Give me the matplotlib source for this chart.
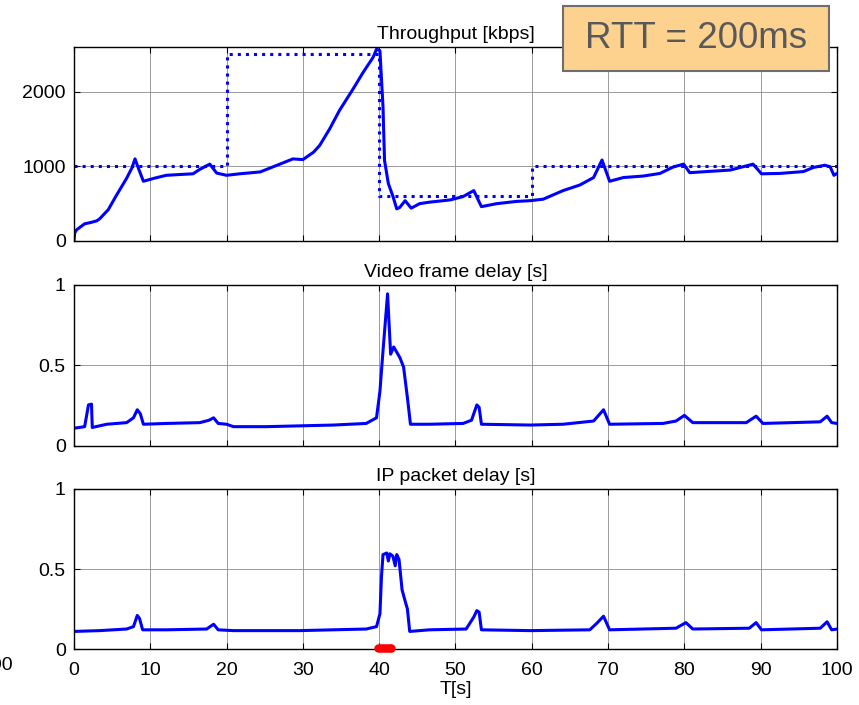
import numpy as np
import matplotlib
matplotlib.use("Agg")
import matplotlib.pyplot as plt
from matplotlib.patches import Rectangle

plt.rcParams["font.family"] = ["Liberation Sans", "DejaVu Sans"]

# throughput [kbps]
tp_t = [0.0, 0.1, 0.35, 1.4, 2.3, 3.0, 3.4, 4.5, 5.5, 6.9, 7.6, 8.0, 8.5, 9.1, 10.5, 12.1,
        13.8, 15.6, 16.5, 17.8, 18.7, 20.0, 21.7, 24.4, 26.5, 28.7, 30.0, 31.4, 32.2, 33.5,
        34.8, 36.6, 37.9, 39.2, 39.65, 40.1, 40.5, 40.7, 41.2, 41.8, 42.3, 42.7, 43.4, 44.2,
        45.3, 46.6, 49.3, 51.0, 52.4, 53.4, 55.4, 58.0, 59.8, 61.5, 64.1, 66.3, 68.1, 69.2,
        70.2, 72.0, 74.6, 76.8, 78.5, 79.9, 80.7, 82.9, 86.0, 87.7, 89.0, 90.1, 92.5, 95.6,
        96.9, 98.4, 99.1, 99.6, 100.0]
tp_v = [0, 110, 150, 230, 250, 270, 300, 420, 600, 840, 980, 1100, 960, 800, 840, 880,
        890, 900, 960, 1030, 910, 880, 900, 925, 1010, 1100, 1090, 1190, 1280, 1500,
        1750, 2040, 2260, 2460, 2570, 2550, 1800, 1080, 770, 600, 430, 450, 540, 440,
        500, 520, 550, 595, 675, 460, 500, 530, 540, 560, 675, 750, 850, 1085,
        800, 850, 870, 905, 990, 1030, 915, 930, 950, 995, 1030, 900, 905, 930,
        985, 1015, 995, 880, 905]

# target rate steps
target_t = [0, 20, 20, 40, 40, 60, 60, 100]
target_v = [1000, 1000, 2500, 2500, 600, 600, 1000, 1000]

# video frame delay [s]
vf_t = [0.0, 1.4, 1.7, 1.9, 2.3, 2.4, 4.3, 6.9, 7.8, 8.3, 8.7, 9.1, 12.1, 16.5, 17.7, 18.3,
        18.9, 20.0, 20.9, 25.2, 29.6, 34.0, 38.3, 39.65, 40.1, 40.5, 41.1, 41.5, 41.9, 42.7,
        43.2, 43.7, 44.1, 46.6, 51.0, 52.1, 52.8, 53.1, 53.4, 59.8, 64.1, 68.1, 69.4, 70.2,
        77.2, 78.9, 80.0, 81.1, 88.1, 89.4, 90.3, 97.8, 98.7, 99.3, 100.0]
vf_v = [0.11, 0.12, 0.2, 0.255, 0.26, 0.115, 0.135, 0.145, 0.175, 0.225, 0.2, 0.135, 0.14,
        0.145, 0.16, 0.175, 0.14, 0.135, 0.12, 0.12, 0.125, 0.13, 0.14, 0.175, 0.34, 0.59,
        0.945, 0.57, 0.615, 0.55, 0.49, 0.3, 0.135, 0.135, 0.14, 0.16, 0.255, 0.24, 0.135,
        0.13, 0.135, 0.155, 0.225, 0.135, 0.14, 0.155, 0.19, 0.145, 0.145, 0.185, 0.14,
        0.15, 0.185, 0.145, 0.14]

# IP packet delay [s]
ip_t = [0.0, 3.4, 6.9, 7.8, 8.3, 8.6, 9.0, 12.1, 17.4, 18.3, 18.9, 20.9, 29.6, 38.3, 39.65,
        40.1, 40.3, 40.5, 41.0, 41.2, 41.4, 41.8, 42.1, 42.3, 42.6, 43.0, 43.4, 43.7, 44.0,
        46.6, 51.4, 52.4, 52.8, 53.1, 53.4, 59.8, 67.6, 68.5, 69.4, 70.2, 78.9, 80.2, 81.1,
        88.5, 89.4, 90.1, 97.8, 98.7, 99.3, 100.0]
ip_v = [0.11, 0.115, 0.125, 0.14, 0.21, 0.19, 0.12, 0.12, 0.125, 0.155, 0.12, 0.115, 0.115,
        0.125, 0.14, 0.22, 0.45, 0.59, 0.6, 0.55, 0.595, 0.58, 0.52, 0.59, 0.56, 0.37, 0.3,
        0.25, 0.11, 0.12, 0.125, 0.2, 0.24, 0.23, 0.12, 0.115, 0.12, 0.16, 0.205, 0.12,
        0.13, 0.165, 0.125, 0.13, 0.165, 0.12, 0.13, 0.17, 0.12, 0.125]

# lost packets
loss_t = [39.9, 40.15, 40.4, 40.65, 40.9, 41.15, 41.4, 41.6]

x_ticks = [0, 10, 20, 30, 40, 50, 60, 70, 80, 90, 100]

fig = plt.figure(figsize=(8.59, 7.05), dpi=100)
ax1 = fig.add_axes([0.0861, 0.6582, 0.8883, 0.2752])
ax2 = fig.add_axes([0.0861, 0.3674, 0.8883, 0.2284])
ax3 = fig.add_axes([0.0861, 0.0794, 0.8883, 0.2270])

blue = "#0000FF"
ax1.plot(target_t, target_v, color=blue, linestyle=":", linewidth=2.2)
ax1.plot(tp_t, tp_v, color=blue, linewidth=2.2)
ax2.plot(vf_t, vf_v, color=blue, linewidth=2.2)
ax3.plot(ip_t, ip_v, color=blue, linewidth=2.2)
ax3.plot(loss_t, np.zeros(len(loss_t)) + 0.005, "o", color="red", markersize=5,
         clip_on=False, zorder=5)

ax1.set_ylim(0, 2600)
ax1.set_yticks([0, 1000, 2000])
ax2.set_ylim(0, 1)
ax2.set_yticks([0, 0.5, 1])
ax2.set_yticklabels(["0", "0.5", "1"])
ax3.set_ylim(0, 1)
ax3.set_yticks([0, 0.5, 1])
ax3.set_yticklabels(["0", "0.5", "1"])

for ax in (ax1, ax2, ax3):
    ax.set_xlim(0, 100)
    ax.set_xticks(x_ticks)
    ax.grid(True, color="#8C8C8C", linestyle="-", linewidth=0.6)
    ax.tick_params(direction="in", length=4, width=0.8, top=True, right=True,
                   labelsize=14, pad=6)
    for s in ax.spines.values():
        s.set_linewidth(1.0)
ax1.tick_params(labelbottom=False)
ax2.tick_params(labelbottom=False)
ax3.tick_params(axis="x", pad=9)

ax1.set_title("Throughput [kbps]", fontsize=14, pad=6)
ax2.set_title("Video frame delay [s]", fontsize=14, pad=6)
ax3.set_title("IP packet delay [s]", fontsize=14, pad=6)
ax3.set_xlabel("T[s]", fontsize=14, labelpad=2)

# clipped label from the neighbouring chart
fig.text(13 / 859, 1 - 666 / 705, "100", ha="right", va="center", fontsize=14)

# RTT badge
fig.add_artist(Rectangle((563 / 859, 1 - 71 / 705), 266 / 859, 65 / 705,
                         transform=fig.transFigure, facecolor="#FDD28E",
                         edgecolor="#6E6E6E", linewidth=1.5, zorder=10))
fig.text(696 / 859, 1 - 39 / 705, "RTT = 200ms", ha="center", va="center",
         fontsize=26.5, color="#595959", zorder=11)

fig.savefig("out.png", dpi=100)
